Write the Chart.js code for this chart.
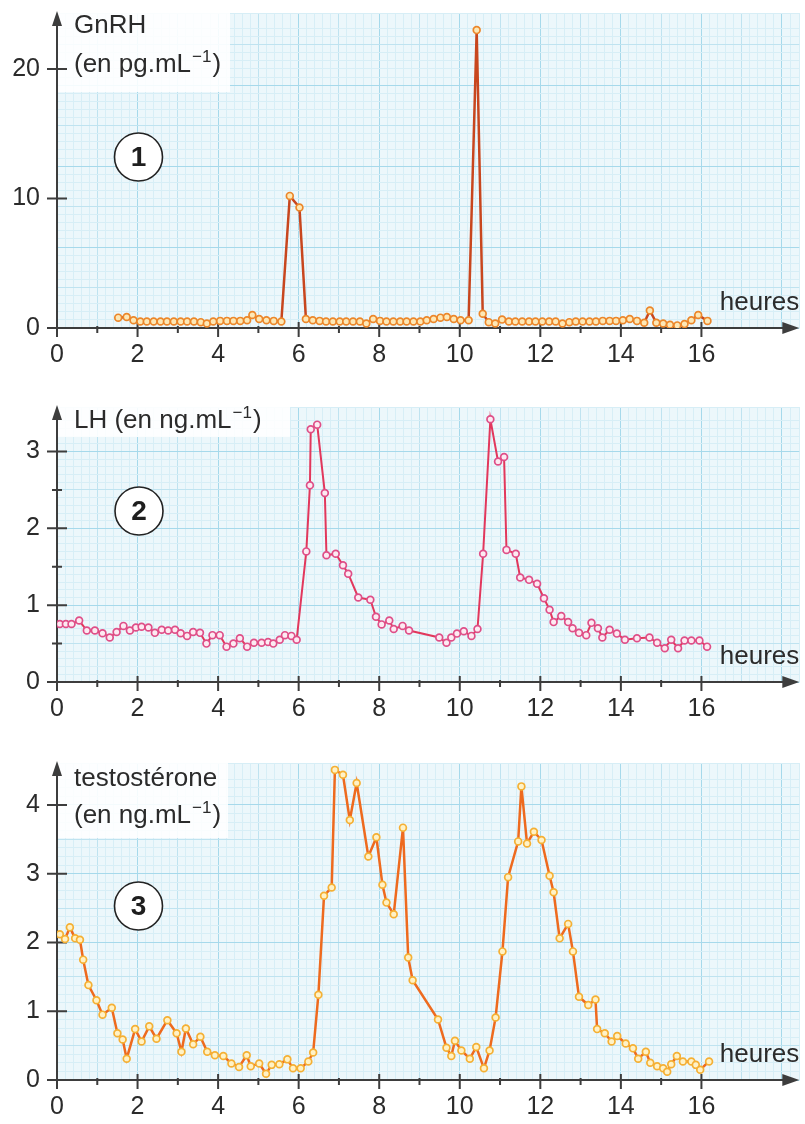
<!DOCTYPE html>
<html lang="fr">
<head>
<meta charset="utf-8">
<title>GnRH, LH, testostérone</title>
<script src="https://cdn.jsdelivr.net/npm/chart.js@4.4.1/dist/chart.umd.min.js"></script>
<style>
  body { margin: 0; background: #fff; }
  .panel { position: absolute; left: 0; width: 805px; }
</style>
</head>
<body>
<div class="panel" style="top:0;height:370px"><canvas id="chart-gnrh"></canvas></div>
<div class="panel" style="top:370px;height:370px"><canvas id="chart-lh"></canvas></div>
<div class="panel" style="top:740px;height:384px"><canvas id="chart-testo"></canvas></div>
<script>
// heures (axe x commun)
const hourTicks = [0, 2, 4, 6, 8, 10, 12, 14, 16];
const hourMinor = [1, 3, 5, 7, 9, 11, 13, 15];

// 1 - GnRH (pg/mL)
const gnrhTicks = [0, 10, 20];
const gnrhTime = [1.52, 1.73, 1.9, 2.07, 2.23, 2.4, 2.57, 2.73, 2.9, 3.07, 3.23, 3.4, 3.57, 3.72, 3.88, 4.05, 4.22, 4.38, 4.55, 4.72,
  4.85, 5.02, 5.2, 5.38, 5.57, 5.78, 6.02, 6.18, 6.35, 6.52, 6.68, 6.85, 7.02, 7.18, 7.35, 7.52, 7.68, 7.85, 8.02, 8.18,
  8.35, 8.52, 8.68, 8.85, 9.02, 9.18, 9.35, 9.52, 9.68, 9.85, 10.02, 10.22, 10.42, 10.57, 10.72, 10.88, 11.05, 11.22, 11.38, 11.55,
  11.72, 11.88, 12.05, 12.22, 12.38, 12.55, 12.72, 12.88, 13.05, 13.22, 13.38, 13.55, 13.72, 13.88, 14.05, 14.22, 14.4, 14.58, 14.72, 14.88,
  15.05, 15.22, 15.4, 15.58, 15.75, 15.92, 16.15];
const gnrhValue = [0.8, 0.85, 0.6, 0.5, 0.5, 0.5, 0.5, 0.5, 0.5, 0.5, 0.5, 0.5, 0.45, 0.35, 0.5, 0.55, 0.55, 0.55, 0.55, 0.6,
  1.0, 0.7, 0.6, 0.55, 0.5, 10.2, 9.3, 0.7, 0.6, 0.55, 0.5, 0.5, 0.5, 0.5, 0.5, 0.5, 0.35, 0.7, 0.55, 0.5,
  0.5, 0.5, 0.5, 0.5, 0.5, 0.6, 0.7, 0.8, 0.85, 0.7, 0.6, 0.6, 23.0, 1.1, 0.45, 0.35, 0.65, 0.5, 0.5, 0.5,
  0.5, 0.5, 0.5, 0.5, 0.5, 0.35, 0.45, 0.5, 0.5, 0.5, 0.5, 0.55, 0.55, 0.55, 0.6, 0.7, 0.55, 0.4, 1.35, 0.4,
  0.35, 0.25, 0.2, 0.3, 0.6, 1.0, 0.55];

// 2 - LH (ng/mL)
const lhTicks = [0, 1, 2, 3];
const lhMinor = [0.5, 1.5, 2.5];
const lhTime = [0.07, 0.22, 0.36, 0.55, 0.74, 0.94, 1.13, 1.31, 1.48, 1.65, 1.81, 1.96, 2.1, 2.27, 2.43, 2.6, 2.76, 2.93, 3.07, 3.23,
  3.38, 3.55, 3.71, 3.86, 4.04, 4.21, 4.38, 4.54, 4.72, 4.89, 5.08, 5.24, 5.37, 5.53, 5.66, 5.82, 5.95, 6.19, 6.28, 6.3,
  6.46, 6.65, 6.69, 6.92, 7.1, 7.23, 7.48, 7.78, 7.92, 8.06, 8.25, 8.36, 8.58, 8.74, 9.49, 9.67, 9.79, 9.93, 10.1, 10.29,
  10.44, 10.58, 10.76, 10.95, 11.1, 11.16, 11.39, 11.5, 11.72, 11.92, 12.09, 12.23, 12.33, 12.52, 12.69, 12.8, 12.96, 13.14, 13.27, 13.43,
  13.54, 13.72, 13.9, 14.1, 14.4, 14.71, 14.9, 15.09, 15.25, 15.42, 15.58, 15.75, 15.95, 16.14];
const lhValue = [0.755, 0.755, 0.755, 0.8, 0.67, 0.67, 0.635, 0.58, 0.65, 0.73, 0.67, 0.71, 0.72, 0.71, 0.64, 0.68, 0.67, 0.68, 0.635, 0.6,
  0.65, 0.64, 0.5, 0.61, 0.61, 0.46, 0.5, 0.57, 0.46, 0.51, 0.51, 0.52, 0.5, 0.55, 0.61, 0.6, 0.55, 1.7, 2.56, 3.29,
  3.35, 2.46, 1.65, 1.67, 1.52, 1.41, 1.1, 1.07, 0.85, 0.75, 0.8, 0.69, 0.73, 0.67, 0.58, 0.51, 0.58, 0.63, 0.66, 0.6,
  0.69, 1.67, 3.42, 2.87, 2.93, 1.72, 1.67, 1.36, 1.33, 1.28, 1.09, 0.94, 0.78, 0.86, 0.78, 0.7, 0.64, 0.61, 0.77, 0.7,
  0.58, 0.68, 0.63, 0.55, 0.57, 0.58, 0.51, 0.44, 0.55, 0.44, 0.54, 0.54, 0.54, 0.46];

// 3 - testostérone (ng/mL)
const testoTicks = [0, 1, 2, 3, 4];
const testoTime = [0.07, 0.2, 0.32, 0.45, 0.57, 0.65, 0.78, 0.98, 1.13, 1.36, 1.5, 1.63, 1.73, 1.94, 2.1, 2.29, 2.47, 2.74, 2.97, 3.09,
  3.2, 3.38, 3.56, 3.73, 3.92, 4.13, 4.33, 4.52, 4.71, 4.81, 5.02, 5.19, 5.33, 5.52, 5.72, 5.86, 6.05, 6.24, 6.36, 6.49,
  6.63, 6.82, 6.9, 7.1, 7.27, 7.44, 7.73, 7.93, 8.08, 8.18, 8.36, 8.59, 8.72, 8.83, 9.46, 9.67, 9.79, 9.88, 10.04, 10.25,
  10.41, 10.6, 10.74, 10.89, 11.06, 11.2, 11.45, 11.53, 11.67, 11.84, 12.03, 12.23, 12.33, 12.48, 12.69, 12.81, 12.96, 13.19, 13.37, 13.41,
  13.6, 13.77, 13.91, 14.12, 14.3, 14.43, 14.62, 14.73, 14.9, 15.05, 15.15, 15.25, 15.39, 15.54, 15.75, 15.86, 15.97, 16.19];
const testoValue = [2.12, 2.05, 2.22, 2.06, 2.04, 1.75, 1.38, 1.16, 0.95, 1.05, 0.68, 0.59, 0.31, 0.74, 0.56, 0.78, 0.6, 0.87, 0.68, 0.41,
  0.75, 0.52, 0.63, 0.41, 0.36, 0.35, 0.24, 0.19, 0.36, 0.2, 0.24, 0.09, 0.22, 0.23, 0.3, 0.17, 0.17, 0.27, 0.4, 1.24,
  2.68, 2.8, 4.51, 4.44, 3.78, 4.32, 3.25, 3.53, 2.84, 2.58, 2.41, 3.67, 1.78, 1.45, 0.88, 0.47, 0.35, 0.57, 0.43, 0.31,
  0.48, 0.17, 0.43, 0.91, 1.87, 2.95, 3.47, 4.27, 3.44, 3.61, 3.49, 2.97, 2.73, 2.06, 2.27, 1.87, 1.21, 1.09, 1.17, 0.74,
  0.68, 0.56, 0.64, 0.53, 0.46, 0.31, 0.41, 0.25, 0.2, 0.17, 0.12, 0.23, 0.35, 0.27, 0.27, 0.22, 0.15, 0.27];

const FONT = "'Liberation Sans', Arial, sans-serif";
const TEXT = '#2b2b2b';
const AXIS = '#3d3d3d';

function near(v, step) {
  return Math.abs(v / step - Math.round(v / step)) < 1e-6;
}

// papier millimétré
function paperColor(v, major, medium) {
  if (near(v, major)) return '#a6d9eb';
  if (near(v, medium)) return '#bfe3f0';
  return '#d7eef6';
}

function drawTitleLine(ctx, x, y, line) {
  ctx.font = `26px ${FONT}`;
  ctx.fillText(line.text, x, y);
  if (!line.sup) return;
  let cx = x + ctx.measureText(line.text).width;
  ctx.font = `17px ${FONT}`;
  ctx.fillText(line.sup, cx + 1, y - 10);
  cx += ctx.measureText(line.sup).width + 2;
  ctx.font = `26px ${FONT}`;
  ctx.fillText(line.end, cx, y);
}

function paperPlugin(p) {
  return {
    id: 'paper',
    beforeDraw(chart) {
      const { ctx, chartArea: a } = chart;
      ctx.save();
      ctx.fillStyle = '#ecf7fb';
      ctx.fillRect(a.left, a.top, a.right - a.left, a.bottom - a.top);
      ctx.restore();
    },
    beforeDatasetsDraw(chart) {
      const { ctx, chartArea: a, scales: { x, y } } = chart;
      const x0 = x.getPixelForValue(0);
      const y0 = y.getPixelForValue(0);
      ctx.save();

      // fond blanc derrière le titre
      ctx.fillStyle = 'rgba(255,255,255,0.88)';
      ctx.fillRect(p.box[0], p.box[1], p.box[2], p.box[3]);

      // axes
      ctx.strokeStyle = AXIS;
      ctx.fillStyle = AXIS;
      ctx.lineWidth = 2;
      ctx.beginPath();
      ctx.moveTo(x0, y0 + 9);
      ctx.lineTo(x0, a.top + 4);
      ctx.moveTo(x0 - 10, y0);
      ctx.lineTo(a.right - 6, y0);
      ctx.stroke();
      ctx.beginPath();
      ctx.moveTo(x0, a.top - 2);
      ctx.lineTo(x0 - 5, a.top + 13);
      ctx.lineTo(x0 + 5, a.top + 13);
      ctx.closePath();
      ctx.fill();
      ctx.beginPath();
      ctx.moveTo(a.right, y0);
      ctx.lineTo(a.right - 17, y0 - 6);
      ctx.lineTo(a.right - 17, y0 + 6);
      ctx.closePath();
      ctx.fill();

      // graduations
      ctx.lineWidth = 2;
      ctx.beginPath();
      hourTicks.forEach(h => {
        const px = x.getPixelForValue(h);
        ctx.moveTo(px, y0 - 6);
        ctx.lineTo(px, y0 + 9);
      });
      hourMinor.forEach(h => {
        const px = x.getPixelForValue(h);
        ctx.moveTo(px, y0 - 2);
        ctx.lineTo(px, y0 + 5);
      });
      p.yTicks.forEach(v => {
        const py = y.getPixelForValue(v);
        ctx.moveTo(x0 - 10, py);
        ctx.lineTo(x0 + 10, py);
      });
      p.yMinor.forEach(v => {
        const py = y.getPixelForValue(v);
        ctx.moveTo(x0 - 5, py);
        ctx.lineTo(x0 + 5, py);
      });
      ctx.stroke();

      // textes
      ctx.fillStyle = TEXT;
      ctx.textAlign = 'left';
      ctx.textBaseline = 'alphabetic';
      p.title.forEach(line => drawTitleLine(ctx, 74, line.y, line));
      ctx.textAlign = 'right';
      ctx.font = `26px ${FONT}`;
      ctx.fillText('heures', a.right, y0 - 18);

      // numéro entouré
      ctx.beginPath();
      ctx.arc(p.num[1], p.num[2], 24, 0, Math.PI * 2);
      ctx.fillStyle = '#fff';
      ctx.fill();
      ctx.strokeStyle = '#222';
      ctx.lineWidth = 1.6;
      ctx.stroke();
      ctx.fillStyle = '#1e1e1e';
      ctx.textAlign = 'center';
      ctx.textBaseline = 'middle';
      ctx.font = `bold 28px ${FONT}`;
      ctx.fillText(p.num[0], p.num[1], p.num[2] + 1);
      ctx.restore();
    }
  };
}

function makeChart(id, p) {
  return new Chart(document.getElementById(id), {
    type: 'line',
    data: {
      datasets: [{
        data: p.time.map((t, i) => ({ x: t, y: p.value[i] })),
        borderColor: p.line,
        borderWidth: p.lineWidth,
        pointRadius: 3.4,
        pointBorderWidth: 1.7,
        pointBorderColor: p.point,
        pointBackgroundColor: p.fill,
        tension: 0
      }]
    },
    options: {
      animation: false,
      responsive: true,
      maintainAspectRatio: false,
      devicePixelRatio: 1,
      layout: { padding: { top: p.top, right: 5, left: 0, bottom: 0 } },
      plugins: {
        legend: { display: false },
        tooltip: { enabled: false }
      },
      scales: {
        x: {
          type: 'linear',
          min: 0,
          max: 18.43,
          afterFit: s => { s.height = p.xHeight; s.paddingLeft = 0; s.paddingRight = 0; },
          border: { display: false },
          grid: { color: c => paperColor(c.tick.value, 2, 1), lineWidth: 1, drawTicks: false },
          ticks: {
            stepSize: 0.2,
            autoSkip: false,
            minRotation: 0,
            maxRotation: 0,
            padding: 12,
            color: TEXT,
            font: { family: FONT, size: 25 },
            callback: v => hourTicks.some(h => Math.abs(h - v) < 1e-6) ? String(Math.round(v)) : ''
          }
        },
        y: {
          min: 0,
          max: p.yMax,
          afterFit: s => { s.width = 57; s.paddingTop = 0; s.paddingBottom = 0; },
          border: { display: false },
          grid: { color: c => paperColor(c.tick.value, p.yMajor, p.yMedium), lineWidth: 1, drawTicks: false },
          ticks: {
            stepSize: p.yStep,
            autoSkip: false,
            padding: 17,
            color: TEXT,
            font: { family: FONT, size: 25 },
            callback: v => p.yTicks.some(t => Math.abs(t - v) < 1e-6) ? String(Math.round(v)) : ''
          }
        }
      }
    },
    plugins: [paperPlugin(p)]
  });
}

makeChart('chart-gnrh', {
  time: gnrhTime, value: gnrhValue,
  line: '#c8461e', lineWidth: 2.5, point: '#ec872a', fill: '#fde8b6',
  top: 13, xHeight: 42, yMax: 24.32, yStep: 0.625, yMajor: 6.25, yMedium: 3.125,
  yTicks: gnrhTicks, yMinor: [],
  box: [58, 13, 172, 79],
  title: [{ text: 'GnRH', y: 33 }, { text: '(en pg.mL', sup: '−1', end: ')', y: 72 }],
  num: ['1', 138.5, 157]
});

makeChart('chart-lh', {
  time: lhTime, value: lhValue,
  line: '#e2375c', lineWidth: 2, point: '#df4f88', fill: '#fdeaf2',
  top: 37, xHeight: 58, yMax: 3.58, yStep: 0.1, yMajor: 1, yMedium: 0.5,
  yTicks: lhTicks, yMinor: lhMinor,
  box: [58, 37, 232, 30],
  title: [{ text: 'LH (en ng.mL', sup: '−1', end: ')', y: 58 }],
  num: ['2', 139, 141]
});

makeChart('chart-testo', {
  time: testoTime, value: testoValue,
  line: '#ee6a1e', lineWidth: 2.5, point: '#f5b034', fill: '#fff2c6',
  top: 23, xHeight: 44, yMax: 4.61, yStep: 0.125, yMajor: 1, yMedium: 0.5,
  yTicks: testoTicks, yMinor: [],
  box: [58, 23, 170, 75],
  title: [{ text: 'testostérone', y: 46 }, { text: '(en ng.mL', sup: '−1', end: ')', y: 83 }],
  num: ['3', 138.5, 166]
});
</script>
</body>
</html>
